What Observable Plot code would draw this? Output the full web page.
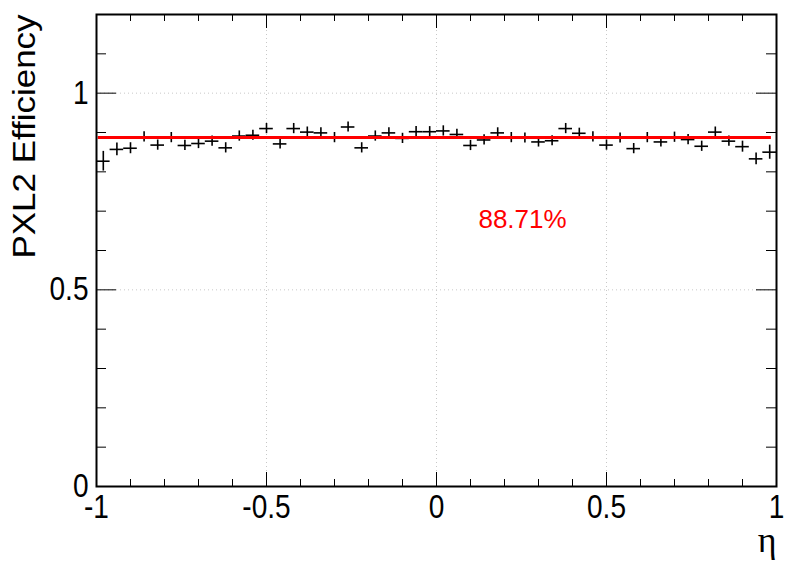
<!DOCTYPE html>
<html>
<head>
<meta charset="utf-8">
<script src="https://cdn.jsdelivr.net/npm/d3@7"></script>
<script src="https://cdn.jsdelivr.net/npm/@observablehq/plot@0.6"></script>
<style>
  html, body { margin: 0; padding: 0; background: #fff; }
  #chart svg { display: block; }
</style>
</head>
<body>
<div id="chart"></div>
<script>
// ---- data ----
const etaCenters = [
  -0.98, -0.94, -0.90, -0.86, -0.82, -0.78, -0.74, -0.70, -0.66, -0.62,
  -0.58, -0.54, -0.50, -0.46, -0.42, -0.38, -0.34, -0.30, -0.26, -0.22,
  -0.18, -0.14, -0.10, -0.06, -0.02,  0.02,  0.06,  0.10,  0.14,  0.18,
   0.22,  0.26,  0.30,  0.34,  0.38,  0.42,  0.46,  0.50,  0.54,  0.58,
   0.62,  0.66,  0.70,  0.74,  0.78,  0.82,  0.86,  0.90,  0.94,  0.98
];
const efficiency = [
  0.827, 0.857, 0.860, 0.889, 0.868, 0.887, 0.867, 0.872, 0.878, 0.861,
  0.891, 0.893, 0.910, 0.871, 0.910, 0.901, 0.899, 0.887, 0.914, 0.861,
  0.891, 0.899, 0.885, 0.902, 0.902, 0.904, 0.895, 0.867, 0.881, 0.899,
  0.887, 0.886, 0.876, 0.879, 0.910, 0.898, 0.889, 0.868, 0.886, 0.859,
  0.887, 0.876, 0.888, 0.882, 0.865, 0.901, 0.878, 0.864, 0.833, 0.850
];
const efficiencyErr = [
  0.025, 0.016, 0.014, 0.013, 0.013, 0.013, 0.013, 0.013, 0.013, 0.013,
  0.013, 0.013, 0.013, 0.013, 0.013, 0.013, 0.013, 0.013, 0.013, 0.013,
  0.013, 0.013, 0.013, 0.013, 0.013, 0.013, 0.013, 0.013, 0.013, 0.013,
  0.013, 0.013, 0.013, 0.013, 0.013, 0.013, 0.013, 0.013, 0.013, 0.013,
  0.013, 0.013, 0.013, 0.013, 0.013, 0.013, 0.013, 0.014, 0.015, 0.018
];
const binHalfWidth = 0.02;
const fitValue = 0.8871;
const fitRange = [-0.995, 0.985];
const fitLabel = "88.71%";
const fitLabelPos = {x: 0.253, y: 0.657};

const xMajorTicks = [-1, -0.5, 0, 0.5, 1];
const xMinorTicks = [-0.9, -0.8, -0.7, -0.6, -0.4, -0.3, -0.2, -0.1, 0.1, 0.2, 0.3, 0.4, 0.6, 0.7, 0.8, 0.9];
const yMajorTicks = [0, 0.5, 1];
const yMinorTicks = [0.1, 0.2, 0.3, 0.4, 0.6, 0.7, 0.8, 0.9, 1.1];
const xGrid = [-0.5, 0, 0.5];
const yGrid = [0.5, 1];
const xTitle = "η";
const yTitle = "PXL2 Efficiency";

// ---- layout ----
const W = 796, H = 572;
const mL = 96, mR = 20, mT = 14, mB = 86;
const pw = W - mL - mR, ph = H - mT - mB;
const xTickMaj = 14, xTickMin = 7, yTickMaj = 20, yTickMin = 10;

const rows = etaCenters.map((eta, i) => ({eta, eff: efficiency[i], err: efficiencyErr[i]}));
const fmt = d => String(d);

const chart = Plot.plot({
  width: W, height: H,
  marginLeft: mL, marginRight: mR, marginTop: mT, marginBottom: mB,
  x: {domain: [-1, 1], label: null},
  y: {domain: [0, 1.2], label: null},
  style: {fontFamily: "'Liberation Sans', Arial, Helvetica, sans-serif", fontSize: "32px", background: "white", color: "black"},
  marks: [
    // dotted grid
    Plot.ruleX(xGrid, {x: d => d, stroke: "#c8c8c8", strokeWidth: 1, strokeDasharray: "1,3"}),
    Plot.ruleY(yGrid, {y: d => d, stroke: "#c8c8c8", strokeWidth: 1, strokeDasharray: "1,3"}),
    // data points with error bars
    Plot.ruleX(rows, {x: "eta", y1: d => d.eff - d.err, y2: d => d.eff + d.err, stroke: "black", strokeWidth: 1.6}),
    Plot.ruleY(rows, {y: "eff", x1: d => d.eta - binHalfWidth, x2: d => d.eta + binHalfWidth, stroke: "black", strokeWidth: 1.6}),
    // fit line
    Plot.ruleY([fitValue], {y: d => d, x1: fitRange[0], x2: fitRange[1], stroke: "#ff0000", strokeWidth: 3}),
    // fit label
    Plot.text([fitLabel], {x: fitLabelPos.x, y: fitLabelPos.y, text: d => d, fill: "#ff0000", fontSize: 26, textAnchor: "middle", lineAnchor: "bottom"}),
    // inward ticks: bottom and top
    Plot.ruleX(xMajorTicks, {x: d => d, insetTop: ph - xTickMaj, stroke: "black", strokeWidth: 1}),
    Plot.ruleX(xMinorTicks, {x: d => d, insetTop: ph - xTickMin, stroke: "black", strokeWidth: 1}),
    Plot.ruleX(xMajorTicks, {x: d => d, insetBottom: ph - xTickMaj, stroke: "black", strokeWidth: 1}),
    Plot.ruleX(xMinorTicks, {x: d => d, insetBottom: ph - xTickMin, stroke: "black", strokeWidth: 1}),
    // inward ticks: left and right
    Plot.ruleY(yMajorTicks, {y: d => d, insetRight: pw - yTickMaj, stroke: "black", strokeWidth: 1}),
    Plot.ruleY(yMinorTicks, {y: d => d, insetRight: pw - yTickMin, stroke: "black", strokeWidth: 1}),
    Plot.ruleY(yMajorTicks, {y: d => d, insetLeft: pw - yTickMaj, stroke: "black", strokeWidth: 1}),
    Plot.ruleY(yMinorTicks, {y: d => d, insetLeft: pw - yTickMin, stroke: "black", strokeWidth: 1}),
    // frame
    Plot.frame({stroke: "black", strokeWidth: 2}),
    // tick labels
    Plot.axisX(xMajorTicks, {tickSize: 0, tickPadding: 8, tickFormat: fmt, fontSize: 33, label: null}),
    Plot.axisY(yMajorTicks, {tickSize: 0, tickPadding: 8, tickFormat: fmt, fontSize: 33, label: null}),
    // axis titles
    Plot.text([xTitle], {frameAnchor: "bottom-right", text: d => d, textAnchor: "end", lineAnchor: "bottom", dy: 65, fontSize: 36, fontFamily: "'Liberation Serif', 'DejaVu Serif', serif"}),
    Plot.text([yTitle], {frameAnchor: "top-left", text: d => d, rotate: -90, textAnchor: "end", lineAnchor: "bottom", dx: -62, fontSize: 31})
  ]
});

document.getElementById("chart").append(chart);

// Emulate the reference's anisotropic glyph scaling
chart.querySelectorAll('g[aria-label="x-axis tick label"] text, g[aria-label="y-axis tick label"] text').forEach(t => {
  const L = t.getComputedTextLength();
  t.setAttribute("textLength", (L * 0.85).toFixed(2));
  t.setAttribute("lengthAdjust", "spacingAndGlyphs");
});
[...chart.querySelectorAll("text")].filter(t => t.textContent === yTitle).forEach(t => {
  t.setAttribute("textLength", "244");
  t.setAttribute("lengthAdjust", "spacingAndGlyphs");
});
</script>
</body>
</html>
